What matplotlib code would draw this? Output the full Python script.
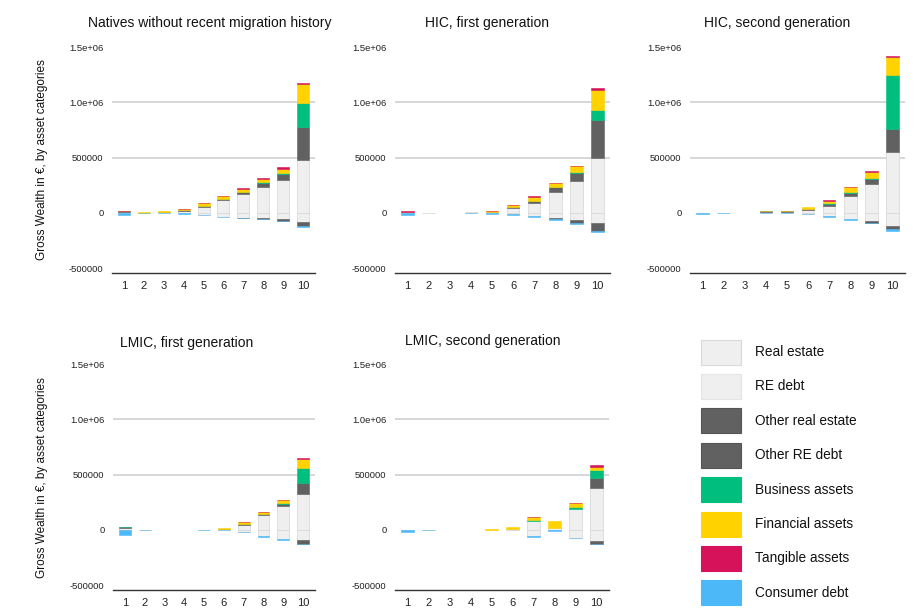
import matplotlib
matplotlib.use("Agg")
import matplotlib.pyplot as plt
import matplotlib.patches as mpatches
import numpy as np

plt.rcParams['font.family'] = ['Liberation Sans', 'DejaVu Sans']

# panels in reading order
panel_titles = ["Natives without recent migration history", "HIC, first generation",
                "HIC, second generation", "LMIC, first generation", "LMIC, second generation"]
deciles = [1, 2, 3, 4, 5, 6, 7, 8, 9, 10]

# values in euro, one row per panel, one column per wealth decile
real_estate = [
    [10000, 1000, 4000, 18000, 54000, 114000, 166000, 235000, 301000, 476000],
    [6000, 2000, 0, 3000, 6000, 39000, 90000, 184000, 289000, 500000],
    [2000, 1000, 0, 6000, 6000, 24000, 63000, 151000, 259000, 551000],
    [15000, 1000, 0, 0, 1000, 6000, 39000, 130000, 217000, 322000],
    [2000, 1000, 0, 0, 2000, 5000, 75000, 15000, 187000, 376000],
]
other_real_estate = [
    [5000, 0, 2000, 3000, 9000, 12000, 18000, 36000, 48000, 300000],
    [0, 0, 0, 0, 3000, 15000, 15000, 45000, 72000, 343000],
    [0, 0, 0, 6000, 6000, 6000, 15000, 24000, 51000, 211000],
    [6000, 0, 0, 0, 0, 3000, 9000, 12000, 18000, 100000],
    [0, 0, 0, 0, 0, 0, 0, 0, 0, 91000],
]
business_assets = [
    [0, 0, 0, 0, 2000, 2000, 6000, 6000, 12000, 217000],
    [0, 0, 0, 0, 0, 0, 3000, 6000, 6000, 85000],
    [0, 0, 0, 0, 0, 0, 9000, 12000, 9000, 482000],
    [3000, 0, 0, 0, 0, 0, 2000, 3000, 9000, 138000],
    [0, 0, 0, 0, 0, 0, 18000, 0, 21000, 75000],
]
financial_assets = [
    [3000, 2000, 6000, 10000, 21000, 22000, 27000, 30000, 39000, 169000],
    [4000, 0, 0, 0, 9000, 18000, 37000, 36000, 54000, 180000],
    [0, 0, 0, 3000, 4000, 18000, 21000, 42000, 54000, 162000],
    [0, 0, 0, 0, 0, 6000, 16000, 18000, 27000, 85000],
    [0, 0, 0, 0, 2000, 18000, 24000, 69000, 30000, 30000],
]
tangible_assets = [
    [2000, 0, 0, 2000, 2000, 2000, 3000, 5000, 12000, 15000],
    [2000, 0, 0, 0, 2000, 2000, 3000, 3000, 6000, 19000],
    [0, 0, 0, 0, 0, 0, 9000, 3000, 6000, 12000],
    [0, 0, 0, 0, 0, 0, 2000, 2000, 3000, 3000],
    [0, 0, 0, 0, 0, 0, 2000, 0, 2000, 12000],
]
re_debt = [
    [0, 0, 1000, 6000, 18000, 36000, 45000, 51000, 60000, 81000],
    [0, 0, 0, 0, 3000, 15000, 30000, 51000, 66000, 96000],
    [0, 0, 0, 0, 0, 9000, 30000, 57000, 72000, 120000],
    [0, 0, 0, 0, 0, 3000, 18000, 60000, 84000, 90000],
    [0, 0, 0, 0, 0, 2000, 60000, 6000, 75000, 105000],
]
other_re_debt = [
    [0, 0, 0, 0, 0, 0, 2000, 3000, 12000, 39000],
    [0, 0, 0, 0, 0, 0, 0, 3000, 30000, 66000],
    [0, 0, 0, 0, 0, 0, 0, 0, 18000, 30000],
    [0, 0, 0, 0, 0, 0, 0, 0, 0, 36000],
    [0, 0, 0, 0, 0, 0, 0, 0, 0, 24000],
]
consumer_debt = [
    [24000, 1000, 1000, 3000, 6000, 4000, 4000, 3000, 6000, 12000],
    [18000, 0, 0, 2000, 6000, 3000, 6000, 12000, 9000, 9000],
    [15000, 1000, 0, 3000, 2000, 3000, 6000, 9000, 2000, 15000],
    [45000, 2000, 0, 0, 2000, 2000, 4000, 3000, 9000, 3000],
    [24000, 3000, 0, 0, 0, 0, 3000, 3000, 3000, 3000],
]

c_light = '#efefef'
c_edge = '#dadada'
c_dark = '#616161'
c_business = '#00bf7e'
c_financial = '#ffd200'
c_tangible = '#d6125a'
c_consumer = '#4cb8f8'

W, H = 915, 616
fig = plt.figure(figsize=(W / 100, H / 100), dpi=100)


def px_axes(left, right, top, bottom):
    return fig.add_axes([left / W, 1 - bottom / H, (right - left) / W, (bottom - top) / H])


# (left, right, top, bottom) in pixels
boxes = [(112, 315, 36, 273), (395, 610, 36, 273), (690, 905, 36, 273),
         (113, 315, 353, 590), (395, 609, 353, 590)]
title_pos = [(210, 23), (487, 23), (777, 23), (187, 343), (483, 341)]

x = np.array(deciles)
width = 0.6
for i, (l, r, t, b) in enumerate(boxes):
    ax = px_axes(l, r, t, b)
    pos_layers = [(real_estate[i], c_light, c_edge, 0.6), (other_real_estate[i], c_dark, c_dark, 0.4),
                  (business_assets[i], c_business, c_business, 0.4),
                  (financial_assets[i], c_financial, c_financial, 0.4),
                  (tangible_assets[i], c_tangible, c_tangible, 0.4)]
    neg_layers = [(re_debt[i], c_light, c_edge, 0.6), (other_re_debt[i], c_dark, c_dark, 0.4),
                  (consumer_debt[i], c_consumer, c_consumer, 0.4)]
    for layers, sign in ((pos_layers, 1), (neg_layers, -1)):
        bottom = np.zeros(10)
        for vals, col, ec, lw in layers:
            v = sign * np.array(vals, dtype=float)
            keep = v != 0
            ax.bar(x[keep], v[keep], width, bottom=bottom[keep], color=col, edgecolor=ec,
                   linewidth=lw, zorder=3)
            bottom += v

    ax.set_xlim(0.4, 10.6)
    ax.set_ylim(-545000, 1600000)
    for g in (500000, 1000000):
        ax.axhline(g, color='#d4d4d4', lw=1.3, zorder=1)
    ax.set_yticks([-500000, 0, 500000, 1000000, 1500000])
    ax.set_yticklabels(['-500000', '0', '500000', '1.0e+06', '1.5e+06'], fontsize=6.8, color='#222222')
    ax.set_xticks(x)
    ax.set_xticklabels([str(d) for d in deciles], fontsize=8, color='#222222')
    ax.tick_params(length=0, pad=6)
    for s in ('top', 'right', 'left'):
        ax.spines[s].set_visible(False)
    ax.spines['bottom'].set_color('#333333')
    ax.spines['bottom'].set_linewidth(1.0)
    tx, ty = title_pos[i]
    fig.text(tx / W, 1 - ty / H, panel_titles[i], ha='center', va='center', fontsize=10, color='#111111')

ylabel = "Gross Wealth in €, by asset categories"
fig.text(42 / W, 1 - 160 / H, ylabel, rotation=90, ha='center', va='center', fontsize=8.5, color='#111111')
fig.text(42 / W, 1 - 478 / H, ylabel, rotation=90, ha='center', va='center', fontsize=8.5, color='#111111')

# legend drawn in a pixel-space axes
legend_labels = ["Real estate", "RE debt", "Other real estate", "Other RE debt",
                 "Business assets", "Financial assets", "Tangible assets", "Consumer debt"]
legend_colors = [c_light, c_light, c_dark, c_dark, c_business, c_financial, c_tangible, c_consumer]
legend_edges = [c_edge, '#e4e4e4', '#555555', '#555555', c_business, c_financial, c_tangible, c_consumer]
leg = px_axes(690, 915, 330, 616)
leg.set_xlim(690, 915)
leg.set_ylim(616, 330)
leg.axis('off')
for k, (lab, fc, ec) in enumerate(zip(legend_labels, legend_colors, legend_edges)):
    cy = 352 + k * 34.4
    leg.add_patch(mpatches.Rectangle((701, cy - 12.5), 40, 25, facecolor=fc, edgecolor=ec, linewidth=0.8))
    leg.text(755, cy, lab, ha='left', va='center', fontsize=9.8, color='#111111')

fig.savefig('out.png', dpi=100)
